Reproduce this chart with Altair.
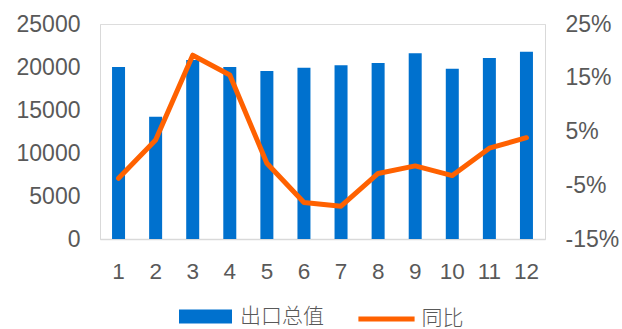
import altair as alt
import pandas as pd

months = [str(i) for i in range(1, 13)]
export_total = [20000, 14220, 20800, 20000, 19530, 19920, 20190, 20460, 21590, 19800, 21050, 21780]
yoy_pct = [-3.7, 3.4, 19.2, 15.5, -0.9, -8.2, -8.9, -2.8, -1.4, -3.2, 1.9, 3.85]
left_ticks = [0, 5000, 10000, 15000, 20000, 25000]
right_ticks = [-0.15, -0.05, 0.05, 0.15, 0.25]
bar_name = "出口总值"
line_name = "同比"

df = pd.DataFrame({
    "month": months,
    "export": export_total,
    "yoy": [v / 100 for v in yoy_pct],
    "s_bar": bar_name,
    "s_line": line_name,
})

BLUE = "#0071CE"
ORANGE = "#FF6100"
GREY = "#595959"
AXIS_LINE = "#D9D9D9"
NUM_FONT = "Liberation Sans"
CJK_FONT = "Noto Sans CJK SC"

x = alt.X(
    "month:N", sort=months, title=None,
    scale=alt.Scale(paddingInner=0, paddingOuter=0),
    axis=alt.Axis(labelAngle=0, ticks=False, labelPadding=21, labelFont=NUM_FONT,
                  labelFontSize=22.5, labelColor=GREY, domainColor=AXIS_LINE,
                  domainWidth=1.5, labelBaseline="top"),
)

legend_common = dict(title=None, orient="none", padding=0, labelFont=CJK_FONT,
                     labelFontSize=21, labelFontWeight=300, labelColor=GREY,
                     labelLimit=300, labelBaseline="middle")

bars = alt.Chart(df).mark_bar(size=13).encode(
    x=x,
    y=alt.Y("export:Q", title=None,
            scale=alt.Scale(domain=[0, 25000], nice=False),
            axis=alt.Axis(values=left_ticks, format="d", grid=False, ticks=False, labelPadding=20,
                          labelFont=NUM_FONT, labelFontSize=23, labelColor=GREY,
                          domainColor=AXIS_LINE, labelFlush=False)),
    color=alt.Color("s_bar:N", scale=alt.Scale(domain=[bar_name], range=[BLUE]),
                    legend=alt.Legend(legendX=79, legendY=266,
                                      symbolType="M-1,-0.26H1V0.26H-1Z", symbolSize=2809,
                                      symbolStrokeWidth=0, labelOffset=8, **legend_common)),
)

line = alt.Chart(df).mark_line(strokeWidth=5, strokeCap="round", strokeJoin="round").encode(
    x=x,
    y=alt.Y("yoy:Q", title=None,
            scale=alt.Scale(domain=[-0.15, 0.25], nice=False, zero=False),
            axis=alt.Axis(orient="right", values=right_ticks,
                          labelExpr="(datum.value < 0 ? '-' : '') + format(abs(datum.value), '.0%')",
                          grid=False, ticks=False, labelPadding=20, labelFont=NUM_FONT,
                          labelFontSize=23, labelColor=GREY, domainColor=AXIS_LINE,
                          labelFlush=False)),
    stroke=alt.Stroke("s_line:N", scale=alt.Scale(domain=[line_name], range=[ORANGE]),
                      legend=alt.Legend(legendX=257.5, legendY=266,
                                        symbolType="M-1.06,0H1.06", symbolSize=2809,
                                        symbolStrokeWidth=5, labelOffset=6, **legend_common)),
)

chart = alt.layer(bars, line).resolve_scale(
    y="independent", color="independent", stroke="independent"
).properties(
    width=445, height=215,
    autosize=alt.AutoSizeParams(type="none"),
    padding={"left": 100, "top": 24, "right": 77, "bottom": 90},
).configure_view(stroke=None).configure(background="white")

chart.save("out.html", embed_options={"renderer": "svg", "actions": False})
